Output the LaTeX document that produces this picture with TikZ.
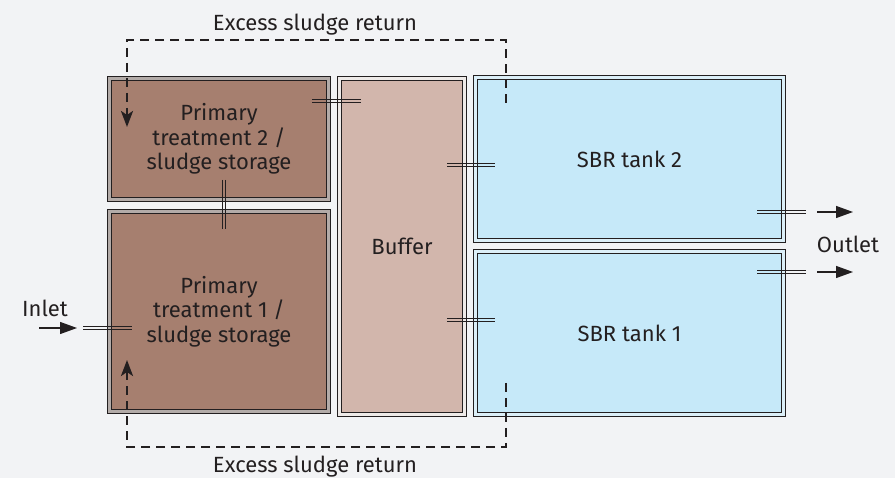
\documentclass[tikz,border=0pt]{standalone}
\usepackage{fontspec}
\setmainfont{Fira Sans}
\usetikzlibrary{arrows.meta,calc}

\definecolor{bgc}{HTML}{F2F3F5}
\definecolor{ink}{HTML}{231F20}
\definecolor{sludge}{HTML}{A67F6F}
\definecolor{sludgegap}{HTML}{B3ABA8}
\definecolor{buff}{HTML}{D2B6AC}
\definecolor{buffgap}{HTML}{EEEAE8}
\definecolor{sbr}{HTML}{C6E9F9}
\definecolor{sbrgap}{HTML}{DCEFF8}

\tikzset{
  tank/.style={draw=ink, line width=1.2pt, double distance=2.4pt,
    inner sep=0pt, outer sep=0pt, align=center, text=ink,
    font=\fontsize{22}{24.5}\selectfont},
  lbl/.style={text=ink, font=\fontsize{22}{24.5}\selectfont},
  hpipe/.style={draw=none,
    postaction={draw=ink, line width=1.2pt, transform canvas={yshift=1.7pt}},
    postaction={draw=ink, line width=1.2pt, transform canvas={yshift=-1.7pt}}},
  vpipe/.style={draw=none,
    postaction={draw=ink, line width=1.2pt, transform canvas={xshift=1.7pt}},
    postaction={draw=ink, line width=1.2pt, transform canvas={xshift=-1.7pt}}},
  flow/.style={draw=ink, line width=1.3pt, -{Triangle[length=17pt,width=12pt]}},
  ret/.style={draw=ink, line width=2.6pt, dash pattern=on 9pt off 6pt,
    -{Stealth[length=16pt,width=12pt,inset=4pt]}}
}

\begin{document}
\begin{tikzpicture}[x=1pt, y=-1pt]
    % Background
    \fill[bgc] (0,0) rectangle (895,478);
    \useasboundingbox (0,0) rectangle (895,478);

    % Tanks
    \node[tank, fill=sludge, double=sludgegap, minimum width=219pt, minimum height=121pt]
        (pt2) at (219,139) {Primary\\treatment 2 /\\sludge storage};
    \node[tank, fill=sludge, double=sludgegap, minimum width=219pt, minimum height=200pt]
        (pt1) at (219,311.5) {Primary\\treatment 1 /\\sludge storage};
    \node[tank, fill=buff, double=buffgap, minimum width=125pt, minimum height=336pt]
        (buffer) at (402,246.5) {Buffer};
    \node[tank, fill=sbr, double=sbrgap, minimum width=308pt, minimum height=163pt]
        (sbr2) at (629.5,159) {SBR tank 2};
    \node[tank, fill=sbr, double=sbrgap, minimum width=308pt, minimum height=163pt]
        (sbr1) at (629.5,333) {SBR tank 1};

    % Labels
    \node[lbl] (topret) at (315,25) {Excess sludge return};
    \node[lbl] (botret) at (315,467) {Excess sludge return};
    \node[lbl] (inlet) at (45,308.5) {Inlet};
    \node[lbl] (outlet) at (848,244.5) {Outlet};

    % Pipes
    \path[hpipe] ($(pt2.north east)+(-16.5,22.5)$) -- ($(buffer.north west)+(21.5,22.5)$);
    \path[vpipe] ($(pt2.south)+(5,-19.5)$) -- ($(pt1.north)+(5,17.5)$);
    \path[hpipe] ($(buffer.north east)+(-17.5,86.5)$) -- ($(sbr2.north west)+(19.5,87.5)$);
    \path[hpipe] ($(buffer.east)+(-17.5,73.5)$) -- ($(sbr1.west)+(19.5,-13)$);
    \path[hpipe] ($(pt1.west)+(-26.5,16.5)$) -- ($(pt1.west)+(22.5,16.5)$);
    \path[hpipe] ($(sbr2.east)+(-26.5,53)$) -- ($(sbr2.east)+(22.5,53)$);
    \path[hpipe] ($(sbr1.east)+(-26.5,-61)$) -- ($(sbr1.east)+(22.5,-61)$);

    % Inlet and outlet flow
    \draw[flow] ($(pt1.west)+(-70.5,16.5)$) -- ++(38,0);
    \draw[flow] ($(sbr2.east)+(33.5,53)$) -- ++(36,0);
    \draw[flow] ($(sbr1.east)+(33.5,-61)$) -- ++(36,0);

    % Excess sludge return
    \draw[ret] ($(sbr2.north west)+(30.5,25.5)$) |- ($(pt2.north west)+(17.5,-38.5)$)
        -- ($(pt2.north west)+(17.5,48.5)$);
    \draw[ret] ($(sbr1.south west)+(30.5,-31.5)$) |- ($(pt1.south west)+(17.5,35.5)$)
        -- ($(pt1.south west)+(17.5,-51.5)$);
\end{tikzpicture}
\end{document}
